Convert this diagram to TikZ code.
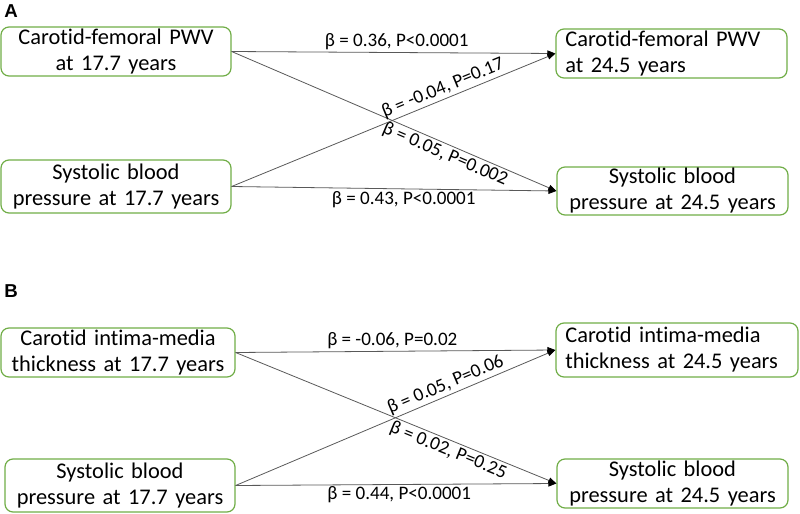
\documentclass[tikz,border=0pt]{standalone}
\usepackage{fontspec}
\setmainfont{Carlito}[Ligatures=NoCommon]
\newfontfamily\panelfont{Liberation Sans}
\usetikzlibrary{arrows.meta}
\definecolor{boxgreen}{HTML}{70AD47}
\definecolor{linegray}{HTML}{595959}
\begin{document}
\begin{tikzpicture}[x=0.75pt, y=-0.75pt,%
  % common options for the boxes:
  box/.style = {draw=boxgreen, line width=0.9pt, rounded corners=6pt,
              inner xsep=3pt, inner ysep=0pt, align=center,
              font=\fontsize{16.8}{19.5}\selectfont},
  % common options for the arrows:
  arr/.style = {draw=linegray, line width=0.6pt,
              -{Triangle[length=6pt,width=4.5pt,black]}},
  % common options for the labels:
  lbl/.style = {font=\fontsize{14.3}{16}\selectfont, inner sep=1.5pt},
  panel/.style = {font=\panelfont\bfseries\fontsize{14}{16}\selectfont, inner sep=0}]
\useasboundingbox (0,0) rectangle (800,514);
% panel A
\node[panel] (PA) at (11,11.5) {A};
\node[box,text width=166.5pt,minimum height=36.75pt] (A1) at (116,51.5) {Carotid-femoral PWV\\at 17.7 years};
\node[box,text width=166.5pt,minimum height=39.75pt] (A2) at (116,186.5) {Systolic blood\\pressure at 17.7 years};
\node[box,text width=159.25pt,minimum height=36.75pt,align=left,inner xsep=7pt] (A3) at (671.5,53.5) {Carotid-femoral PWV\\at 24.5 years};
\node[box,text width=167.25pt,minimum height=36pt] (A4) at (672.5,191) {Systolic blood\\pressure at 24.5 years};
\draw[arr] (A1.east) to node[lbl,pos=0.51,above] {β = 0.36, P<0.0001} (A3.west);
\draw[arr] (A1.east) to node[lbl,pos=0.67,below,sloped] {β = 0.05, P=0.002} (A4.west);
\draw[arr] (A2.east) to node[lbl,pos=0.665,above,sloped] {β = -0.04, P=0.17} (A3.west);
\draw[arr] (A2.east) to node[lbl,pos=0.53,below] {β = 0.43, P<0.0001} (A4.west);
% panel B
\node[panel] (PB) at (11,291.5) {B};
\node[box,text width=169.5pt,minimum height=36.75pt] (B1) at (118,352.5) {Carotid intima-media\\thickness at 17.7 years};
\node[box,text width=166.5pt,minimum height=39.75pt] (B2) at (120,485.5) {Systolic blood\\pressure at 17.7 years};
\node[box,text width=167.5pt,minimum height=40.5pt,align=left,inner xsep=7pt] (B3) at (677,350) {Carotid intima-media\\thickness at 24.5 years};
\node[box,text width=167.25pt,minimum height=36.75pt] (B4) at (672.5,483.5) {Systolic blood\\pressure at 24.5 years};
\draw[arr] (B1.east) to node[lbl,pos=0.49,above] {β = -0.06, P=0.02} (B3.west);
\draw[arr] (B1.east) to node[lbl,pos=0.675,below,sloped] {β = 0.02, P=0.25} (B4.west);
\draw[arr] (B2.east) to node[lbl,pos=0.67,above,sloped] {β = 0.05, P=0.06} (B3.west);
\draw[arr] (B2.east) to node[lbl,pos=0.51,below] {β = 0.44, P<0.0001} (B4.west);
\end{tikzpicture}
\end{document}
